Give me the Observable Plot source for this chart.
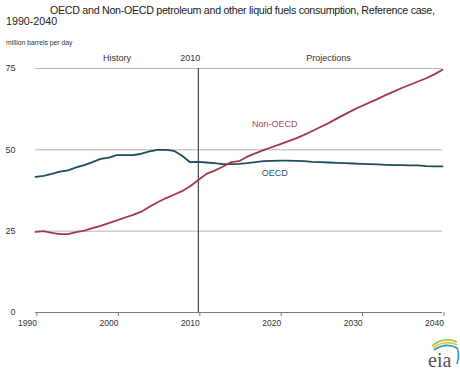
<!DOCTYPE html>
<html>
<head>
<meta charset="utf-8">
<script src="https://cdn.jsdelivr.net/npm/d3@7"></script>
<script src="https://cdn.jsdelivr.net/npm/@observablehq/plot@0.6"></script>
<style>
  html, body { margin: 0; padding: 0; background: #fff; }
  #wrap { position: relative; width: 460px; height: 372px; overflow: hidden; font-family: "Liberation Sans", Arial, sans-serif; color: #222; }
  .t { position: absolute; white-space: nowrap; }
  #t1 { left: 50px; top: 4px; font-size: 10.7px; }
  #t2 { left: 6px; top: 15px; font-size: 10.7px; }
  #units { left: 6px; top: 39px; font-size: 6.8px; color: #333; }
  #chart { position: absolute; left: 0; top: 36px; }
  #logo { position: absolute; left: 424px; top: 334px; }
</style>
</head>
<body>
<div id="wrap">
  <div class="t" id="t1">OECD and Non-OECD petroleum and other liquid fuels consumption, Reference case,</div>
  <div class="t" id="t2">1990-2040</div>
  <div id="chart"></div>
  <div class="t" id="units">million barrels per day</div>
  <div id="logo">
    <svg width="36" height="38" viewBox="0 0 36 38">
      <path d="M8 12 Q20 2 33 8" fill="none" stroke="#8cc63f" stroke-width="1.6"/>
      <path d="M9 14 Q21 5 33 11" fill="none" stroke="#f2c12e" stroke-width="1.6"/>
      <path d="M10 16 Q22 8 33 14 Q36 20 33 30" fill="none" stroke="#1d9ad6" stroke-width="1.6"/>
      <text x="4" y="33" font-family="'Liberation Serif', 'DejaVu Serif', serif" font-size="20" fill="#555">eia</text>
    </svg>
  </div>
</div>
<script>
const years = d3.range(1990, 2041);
const oecd = [41.7,42.0,42.6,43.3,43.7,44.6,45.3,46.2,47.2,47.6,
  48.4,48.4,48.4,48.8,49.5,50.0,50.0,49.7,48.2,46.2,
  46.3,46.1,45.9,45.6,45.6,45.7,45.9,46.2,46.5,46.6,
  46.7,46.7,46.6,46.5,46.3,46.2,46.1,46.0,45.9,45.8,
  45.7,45.6,45.5,45.4,45.3,45.3,45.2,45.2,45.0,44.9,44.9];
const nonOecd = [24.8,25.0,24.5,24.1,24.1,24.7,25.2,25.9,26.6,27.5,
  28.3,29.2,30.0,31.0,32.5,33.9,35.1,36.2,37.3,38.8,
  40.7,42.6,43.6,44.8,46.2,46.5,47.9,48.9,49.9,50.8,
  51.7,52.6,53.5,54.6,55.8,57.0,58.2,59.6,60.9,62.2,
  63.4,64.5,65.6,66.8,67.9,69.0,70.0,71.0,72.0,73.2,74.6];
const xTicks = [1990, 2000, 2010, 2020, 2030, 2040];
const yTicks = [0, 25, 50, 75];
const periodLabels = ["History", "2010", "Projections"];
const periodYears = [2000, 2009, 2026];
const seriesNames = ["OECD", "Non-OECD"];
const seriesLabelYears = [2019.4, 2019.4];
const seriesLabelValues = [42.9, 58.0];

const oecdColor = "#1c4c5c";
const nonColor = "#a5364f";

const oecdData = years.map((y, i) => ({year: y, value: oecd[i]}));
const nonData = years.map((y, i) => ({year: y, value: nonOecd[i]}));
const periods = periodLabels.map((t, i) => ({t, year: periodYears[i]}));
const seriesLabels = seriesNames.map((t, i) => ({t, year: seriesLabelYears[i], value: seriesLabelValues[i]}));

// fit title line 1 to the reference's width
const t1 = document.getElementById("t1");
const w = t1.getBoundingClientRect().width;
const n = t1.textContent.length;
t1.style.letterSpacing = ((385 - w) / (n - 1)) + "px";

const chart = Plot.plot({
  width: 460,
  height: 336,
  marginLeft: 35,
  marginRight: 18,
  marginTop: 32,
  marginBottom: 60,
  style: {fontFamily: "'Liberation Sans', Arial, sans-serif", background: "transparent"},
  x: {domain: [1990, 2040]},
  y: {domain: [0, 75]},
  marks: [
    Plot.ruleY([25, 50, 75], {stroke: "#b5b5b5", strokeWidth: 1}),
    Plot.ruleY([0], {stroke: "#7a7a7a", strokeWidth: 1}),
    Plot.ruleX([2010], {y1: 0, y2: 75, stroke: "#222", strokeWidth: 1}),
    Plot.line(oecdData, {x: "year", y: "value", stroke: oecdColor, strokeWidth: 1.8}),
    Plot.line(nonData, {x: "year", y: "value", stroke: nonColor, strokeWidth: 1.8}),
    Plot.text(periods, {x: "year", y: () => 75, text: "t", dy: -10, fontSize: 9, fill: "#333"}),
    Plot.text(seriesLabels, {x: "year", y: "value", text: "t", fontSize: 9,
      fill: (d) => d.t === "OECD" ? "#2a5668" : "#a84a5e"}),
    Plot.axisX({ticks: xTicks, tickFormat: "d", tickSize: 4, tickPadding: 3, textAnchor: "end", dx: 1.5,
      fontSize: 8.5, stroke: "#7a7a7a", fill: "#333", label: null}),
    Plot.axisY({ticks: yTicks, tickSize: 0, tickPadding: 20, fontSize: 9, fill: "#333", label: null})
  ]
});
document.getElementById("chart").appendChild(chart);
</script>
</body>
</html>
